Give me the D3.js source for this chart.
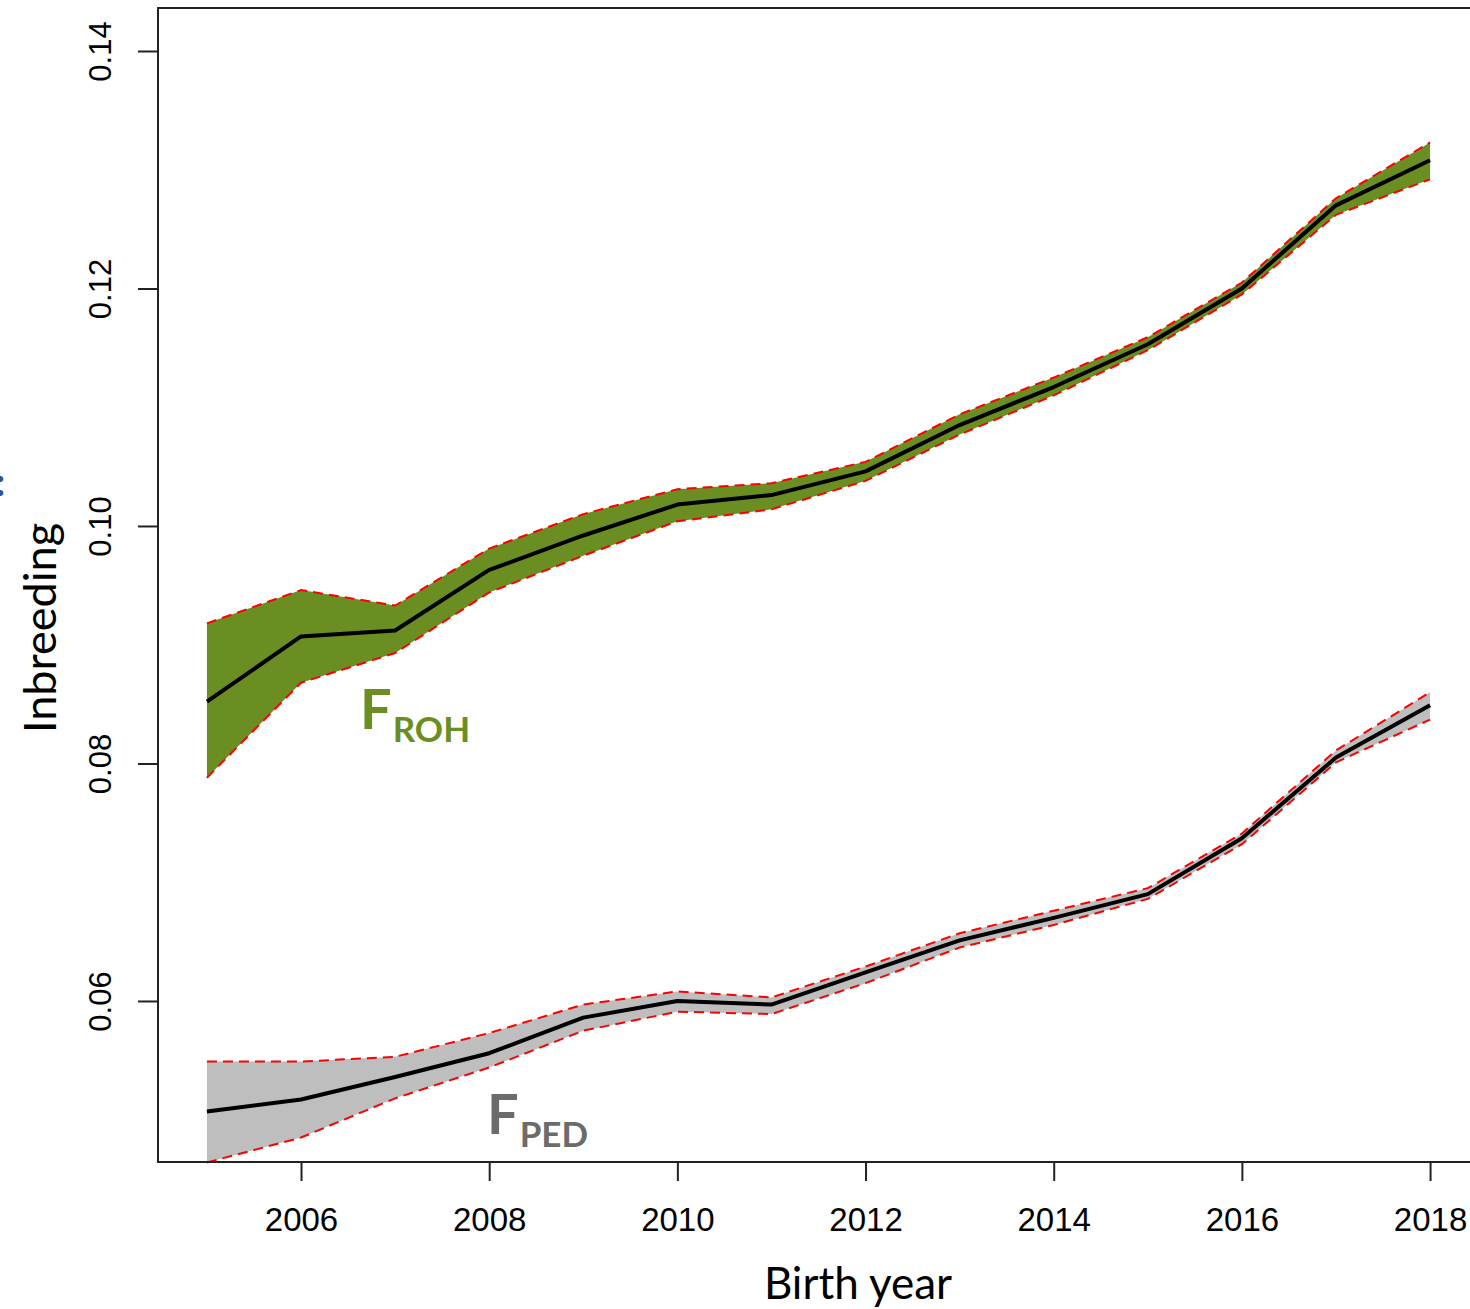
<!DOCTYPE html>
<html lang="en">

<head>
  <meta charset="UTF-8">
  <title>Inbreeding by birth year</title>
  <script src="https://d3js.org/d3.v7.min.js"></script>
  <style>
    body { margin: 0; background: #fff; }
    svg text { fill: #000; }
  </style>
</head>

<body>
  <svg id="chart" width="1470" height="1309"></svg>

  <script>
    const years = [2005, 2006, 2007, 2008, 2009, 2010, 2011, 2012, 2013, 2014, 2015, 2016, 2017, 2018];

    // F_ROH: mean and band limits
    const rohMean  = [0.0852, 0.0907, 0.0912, 0.0963, 0.0992, 0.1018, 0.1026, 0.1046, 0.1085, 0.1117, 0.1153, 0.1200, 0.1270, 0.1308];
    const rohUpper = [0.0918, 0.0946, 0.0933, 0.0981, 0.1010, 0.1031, 0.1036, 0.1054, 0.1094, 0.1125, 0.1159, 0.1205, 0.1276, 0.1323];
    const rohLower = [0.0788, 0.0868, 0.0893, 0.0944, 0.0975, 0.1004, 0.1014, 0.1038, 0.1077, 0.1110, 0.1148, 0.1195, 0.1262, 0.1292];

    // F_PED: mean and band limits
    const pedMean  = [0.0507, 0.0517, 0.0536, 0.0556, 0.0586, 0.0600, 0.0597, 0.0624, 0.0651, 0.0670, 0.0690, 0.0737, 0.0805, 0.0849];
    const pedUpper = [0.0549, 0.0549, 0.0553, 0.0573, 0.0597, 0.0608, 0.0603, 0.0629, 0.0657, 0.0676, 0.0695, 0.0741, 0.0811, 0.0860];
    const pedLower = [0.0464, 0.0485, 0.0518, 0.0544, 0.0575, 0.0591, 0.0589, 0.0615, 0.0645, 0.0664, 0.0686, 0.0732, 0.0801, 0.0837];

    const xTicks = [2006, 2008, 2010, 2012, 2014, 2016, 2018];
    const yTicks = [0.06, 0.08, 0.10, 0.12, 0.14];

    const svg = d3.select("#chart");

    const plot = { left: 158, top: 8, right: 1479, bottom: 1162 };

    const x = d3.scaleLinear()
      .domain([2004.48, 2018.52])
      .range([plot.left, plot.right]);

    const y = d3.scaleLinear()
      .domain([0.04644, 0.14362])
      .range([plot.bottom, plot.top]);

    const tickFont = "'Liberation Sans', Arial, sans-serif";
    const labelFont = "Lato, 'Open Sans', sans-serif";

    // bands
    function drawBand(upper, lower, mean, fill) {
      const rows = years.map((yr, i) => ({ yr: yr, hi: upper[i], lo: lower[i], m: mean[i] }));

      svg.append("path")
        .datum(rows)
        .attr("fill", fill)
        .attr("stroke", "none")
        .attr("d", d3.area().x(d => x(d.yr)).y0(d => y(d.lo)).y1(d => y(d.hi)));

      [d => d.hi, d => d.lo].forEach(acc => {
        svg.append("path")
          .datum(rows)
          .attr("fill", "none")
          .attr("stroke", "#ff0000")
          .attr("stroke-width", 2)
          .attr("stroke-dasharray", "10,6")
          .attr("d", d3.line().x(d => x(d.yr)).y(d => y(acc(d))));
      });

      svg.append("path")
        .datum(rows)
        .attr("fill", "none")
        .attr("stroke", "#000")
        .attr("stroke-width", 4)
        .attr("stroke-linejoin", "round")
        .attr("d", d3.line().x(d => x(d.yr)).y(d => y(d.m)));
    }

    drawBand(rohUpper, rohLower, rohMean, "#6b8e23");
    drawBand(pedUpper, pedLower, pedMean, "#bebebe");

    // box
    svg.append("rect")
      .attr("x", plot.left)
      .attr("y", plot.top)
      .attr("width", plot.right - plot.left)
      .attr("height", plot.bottom - plot.top)
      .attr("fill", "none")
      .attr("stroke", "#222")
      .attr("stroke-width", 2);

    // x axis
    const xAxis = svg.append("g")
      .attr("transform", `translate(0, ${plot.bottom})`)
      .call(d3.axisBottom(x).tickValues(xTicks).tickFormat(d3.format("d")).tickSize(19).tickSizeOuter(0));
    xAxis.select(".domain").remove();
    xAxis.selectAll(".tick line").attr("stroke", "#222").attr("stroke-width", 2);
    xAxis.selectAll(".tick text")
      .attr("y", 58)
      .attr("dy", "0.32em")
      .style("font-family", tickFont)
      .style("font-size", "33px")
      .attr("fill", "#000");

    // y axis
    const yAxis = svg.append("g")
      .attr("transform", `translate(${plot.left}, 0)`)
      .call(d3.axisLeft(y).tickValues(yTicks).tickFormat(d3.format(".2f")).tickSize(20).tickSizeOuter(0));
    yAxis.select(".domain").remove();
    yAxis.selectAll(".tick line").attr("stroke", "#222").attr("stroke-width", 2);
    yAxis.selectAll(".tick text")
      .attr("x", 0)
      .attr("dy", 0)
      .attr("text-anchor", "middle")
      .attr("transform", "translate(-58, 0) rotate(-90)")
      .attr("dominant-baseline", "central")
      .style("font-family", tickFont)
      .style("font-size", "31px")
      .attr("fill", "#000");

    // axis titles
    svg.append("text")
      .attr("x", 858)
      .attr("y", 1299)
      .attr("text-anchor", "middle")
      .style("font-family", labelFont)
      .style("font-size", "44px")
      .text("Birth year");

    svg.append("text")
      .attr("transform", "translate(56, 628) rotate(-90)")
      .attr("text-anchor", "middle")
      .style("font-family", labelFont)
      .style("font-size", "45px")
      .text("Inbreeding");

    // cropped fragment at the far left edge
    svg.append("text")
      .attr("x", -5)
      .attr("y", 496)
      .style("font-family", labelFont)
      .style("font-weight", "bold")
      .style("font-size", "40px")
      .style("fill", "#2f5597")
      .text(":");

    // series labels
    function seriesLabel(xp, yp, sub, color) {
      const t = svg.append("text")
        .attr("x", xp)
        .attr("y", yp)
        .style("font-family", labelFont)
        .style("font-weight", "bold")
        .style("fill", color);
      t.append("tspan").style("font-size", "56px").text("F");
      t.append("tspan").attr("dy", 13).attr("dx", 1).style("font-size", "35px").text(sub);
    }

    seriesLabel(360, 729, "ROH", "#6b8e23");
    seriesLabel(487, 1134, "PED", "#6b6b6b");
  </script>
</body>

</html>
